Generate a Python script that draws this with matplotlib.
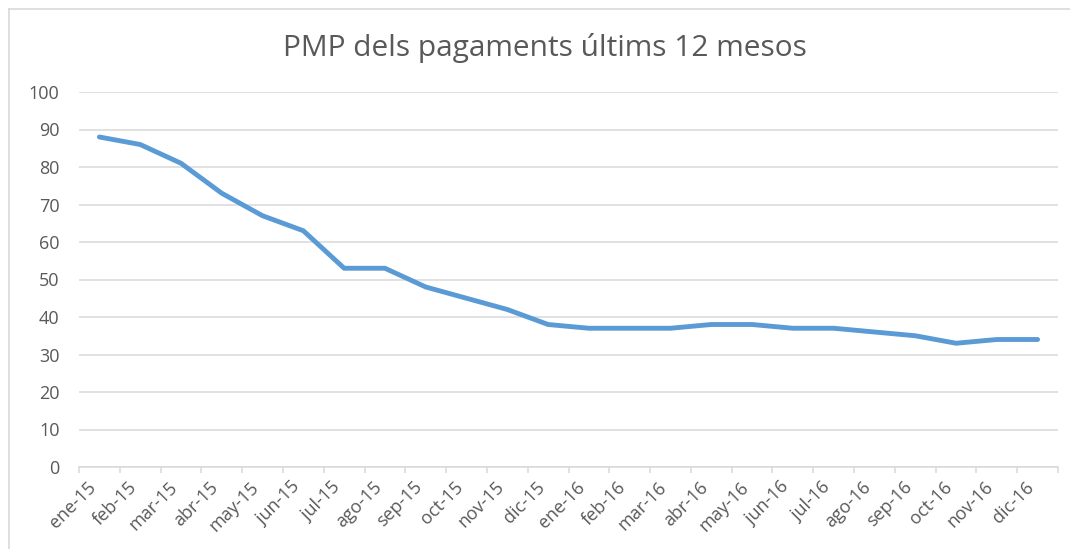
import matplotlib
matplotlib.use("Agg")
import matplotlib.pyplot as plt
from matplotlib.lines import Line2D
from matplotlib.ticker import FixedLocator

months = ["ene-15", "feb-15", "mar-15", "abr-15", "may-15", "jun-15",
          "jul-15", "ago-15", "sep-15", "oct-15", "nov-15", "dic-15",
          "ene-16", "feb-16", "mar-16", "abr-16", "may-16", "jun-16",
          "jul-16", "ago-16", "sep-16", "oct-16", "nov-16", "dic-16"]
pmp = [88, 86, 81, 73, 67, 63, 53, 53, 48, 45, 42, 38,
       37, 37, 37, 38, 38, 37, 37, 36, 35, 33, 34, 34]
yticks = [0, 10, 20, 30, 40, 50, 60, 70, 80, 90, 100]
title = "PMP dels pagaments últims 12 mesos"

plt.rcParams['font.family'] = ['Open Sans', 'DejaVu Sans']
W, H = 1070, 549
fig = plt.figure(figsize=(W / 100, H / 100), dpi=100)
ax = fig.add_axes([79 / W, 1 - 467 / H, (1058 - 79) / W, (467 - 92) / H])

x = list(range(len(months)))
ax.plot(x, pmp, color="#5B9BD5", linewidth=3.5, solid_capstyle="round",
        solid_joinstyle="round", zorder=3)

ax.set_xlim(-0.5, len(months) - 0.5)
ax.set_ylim(0, 100)
ax.set_yticks(yticks)
ax.yaxis.grid(True, color="#D9D9D9", linewidth=1.1)
ax.set_axisbelow(True)
for s in ["top", "right", "left"]:
    ax.spines[s].set_visible(False)
ax.spines["bottom"].set_color("#D9D9D9")
ax.spines["bottom"].set_linewidth(1.1)

ax.set_xticks(x)
ax.set_xticklabels(months, rotation=45, ha="right", rotation_mode="default")
ax.xaxis.set_minor_locator(FixedLocator([i - 0.5 for i in range(len(months) + 1)]))
ax.tick_params(axis="x", which="major", length=0, pad=8, labelsize=13,
               labelcolor="#595959")
ax.tick_params(axis="x", which="minor", length=4, color="#D9D9D9", width=1.1)
ax.tick_params(axis="y", length=0, pad=14, labelsize=13, labelcolor="#595959")

fig.text(545 / W, 1 - 48 / H, title, ha="center", va="center",
         fontsize=21.5, color="#595959")

# chart area border (left and top edges visible)
fig.add_artist(Line2D([9 / W, 9 / W], [0, 1 - 9 / H], transform=fig.transFigure,
                      color="#D9D9D9", linewidth=1.2))
fig.add_artist(Line2D([9 / W, 1], [1 - 9 / H, 1 - 9 / H], transform=fig.transFigure,
                      color="#D9D9D9", linewidth=1.2))

fig.savefig("out.png", dpi=100, facecolor="white")
